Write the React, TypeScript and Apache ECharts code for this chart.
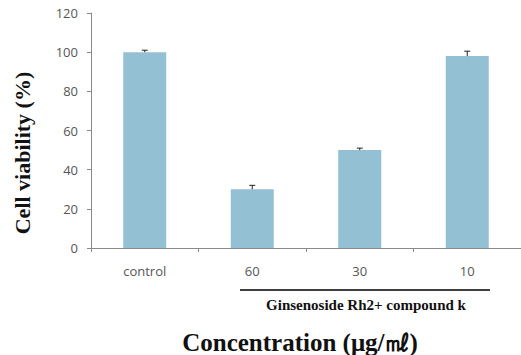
import React, { useEffect, useRef } from "react";
import * as echarts from "echarts";

const categories = ["control", "60", "30", "10"];
const viability = [100, 30, 50, 98];
const errors = [1, 2, 1, 2.5];
const yTicks = [0, 20, 40, 60, 80, 100, 120];

export default function App() {
  const ref = useRef<HTMLDivElement>(null);
  useEffect(() => {
    if (!ref.current) return;
    const chart = echarts.init(ref.current, undefined, { renderer: "svg" });
    const axisColor = "#8a8a8a";
    chart.setOption({
      animation: false,
      backgroundColor: "#ffffff",
      grid: { left: 91, right: 0, top: 13, bottom: 107 },
      xAxis: {
        type: "category",
        data: categories,
        axisLine: { lineStyle: { color: axisColor, width: 1 } },
        axisTick: { show: true, length: 4, lineStyle: { color: axisColor } },
        axisLabel: { color: "#555555", fontSize: 13, fontFamily: "Open Sans", margin: 16 },
      },
      yAxis: {
        type: "value",
        min: yTicks[0],
        max: yTicks[yTicks.length - 1],
        interval: 20,
        splitLine: { show: false },
        axisLine: { show: true, lineStyle: { color: axisColor, width: 1 } },
        axisTick: { show: true, length: 4, lineStyle: { color: axisColor } },
        axisLabel: { color: "#555555", fontSize: 13, fontFamily: "Open Sans", margin: 13 },
      },
      series: [
        {
          type: "bar",
          data: viability,
          barWidth: "40%",
          itemStyle: { color: "#93c1d3" },
        },
        {
          type: "custom",
          data: viability.map((v, i) => [i, v, errors[i]]),
          z: 5,
          renderItem: (params: any, api: any) => {
            const i = api.value(0);
            const v = api.value(1);
            const e = api.value(2);
            const base = api.coord([i, v]);
            const top = api.coord([i, v + e]);
            const half = 3;
            return {
              type: "group",
              children: [
                {
                  type: "line",
                  shape: { x1: base[0], y1: base[1], x2: top[0], y2: top[1] },
                  style: { stroke: "#222", lineWidth: 1 },
                },
                {
                  type: "line",
                  shape: { x1: top[0] - half, y1: top[1], x2: top[0] + half, y2: top[1] },
                  style: { stroke: "#222", lineWidth: 1 },
                },
              ],
            };
          },
        },
      ],
      graphic: [
        {
          type: "line",
          shape: { x1: 240, y1: 290, x2: 490, y2: 290 },
          style: { stroke: "#000", lineWidth: 1.5 },
        },
        {
          type: "text",
          x: 366,
          y: 305,
          style: {
            text: "Ginsenoside Rh2+ compound k",
            font: "bold 15px 'Liberation Serif', 'Times New Roman', serif",
            fill: "#111",
            align: "center",
            verticalAlign: "middle",
          },
        },
        {
          type: "text",
          x: 300,
          y: 342,
          style: {
            text: "Concentration (μg/㎖)",
            font: "bold 25px 'Liberation Serif', 'Times New Roman', serif",
            fill: "#111",
            align: "center",
            verticalAlign: "middle",
          },
        },
        {
          type: "text",
          x: 22,
          y: 153,
          rotation: Math.PI / 2,
          style: {
            text: "Cell viability (%)",
            font: "bold 22px 'Liberation Serif', 'Times New Roman', serif",
            fill: "#111",
            align: "center",
            verticalAlign: "middle",
          },
        },
      ],
    });
    return () => chart.dispose();
  }, []);
  return (
    <div
      ref={ref}
      style={{ position: "absolute", left: 0, top: 0, width: 521, height: 355 }}
    />
  );
}
